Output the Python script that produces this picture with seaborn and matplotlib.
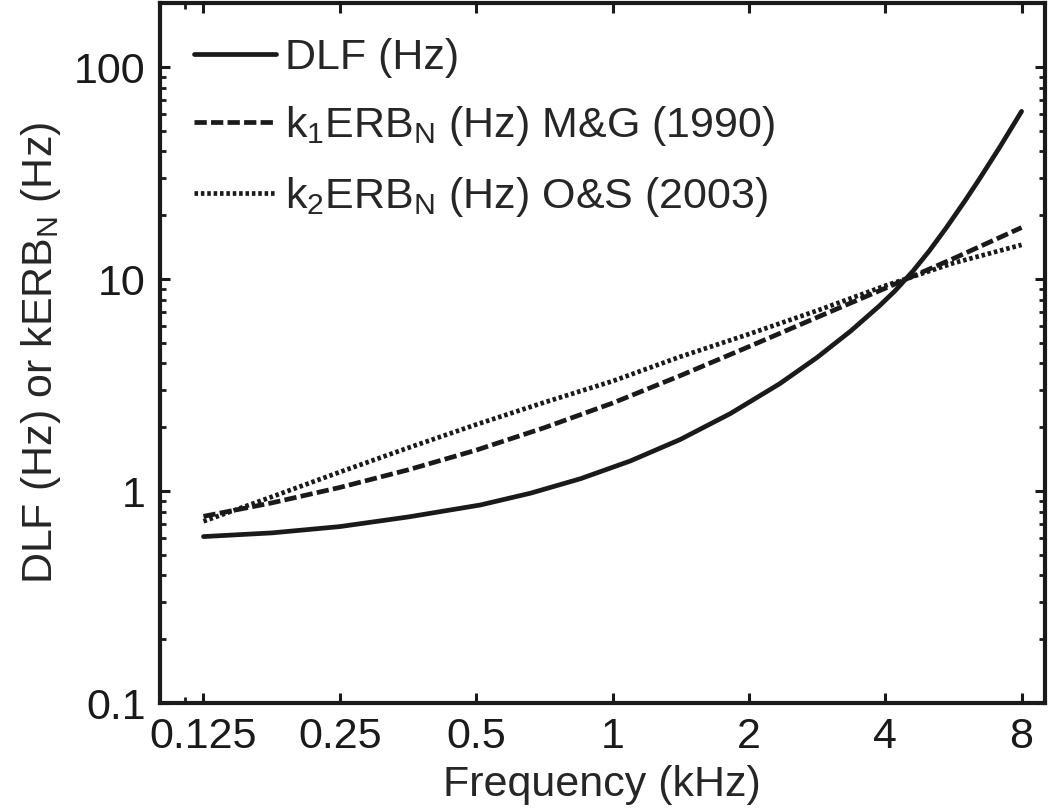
import matplotlib
matplotlib.use('Agg')
import matplotlib.pyplot as plt
import numpy as np
import pandas as pd
import seaborn as sns

# values (kHz / Hz)
freq_dlf = [0.125, 0.177, 0.25, 0.354, 0.511, 0.66, 0.85, 1.094, 1.41, 1.82, 2.34,
            2.83, 3.36, 3.89, 4.2, 4.6, 5.0, 5.45, 6.0, 6.46, 7.15, 8.0]
dlf = [0.61, 0.635, 0.68, 0.755, 0.86, 0.978, 1.144, 1.386, 1.75, 2.32, 3.21,
       4.27, 5.7, 7.5, 8.78, 10.87, 13.55, 17.4, 23.4, 29.7, 41.7, 61.8]

freq_erb = [0.125, 0.177, 0.25, 0.354, 0.5, 0.707, 1.0, 1.41, 2.0, 2.83, 4.0, 5.66, 8.0]
k1_erb = [0.76, 0.88, 1.04, 1.26, 1.56, 1.99, 2.6, 3.5, 4.8, 6.6, 9.05, 12.5, 17.5]
k2_erb = [0.72, 0.94, 1.23, 1.6, 2.06, 2.62, 3.3, 4.3, 5.5, 7.1, 9.3, 11.9, 14.5]

xticks = [0.125, 0.25, 0.5, 1, 2, 4, 8]
xticklabels = ['0.125', '0.25', '0.5', '1', '2', '4', '8']
yticks = [0.1, 1, 10, 100]
yticklabels = ['0.1', '1', '10', '100']

sns.set_theme(style='ticks')
plt.rcParams['font.family'] = ['Liberation Sans', 'DejaVu Sans']
plt.rcParams['mathtext.default'] = 'regular'
fs = 31

fig = plt.figure(figsize=(10.5, 8.1), dpi=100)
ax = fig.add_axes([0.152, 0.132, 0.843, 0.864])

lw = 3.4
sns.lineplot(x=freq_dlf, y=dlf, ax=ax, color='k', lw=lw, label='DLF (Hz)')
sns.lineplot(x=freq_erb, y=k1_erb, ax=ax, color='k', lw=lw,
             label='k$_1$ERB$_N$ (Hz) M&G (1990)')
sns.lineplot(x=freq_erb, y=k2_erb, ax=ax, color='k', lw=lw,
             label='k$_2$ERB$_N$ (Hz) O&S (2003)')
lines = ax.get_lines()
lines[1].set_dashes((2.6, 0.9))
lines[2].set_dashes((0.75, 0.6))

ax.set_xscale('log')
ax.set_yscale('log')
ax.set_xlim(0.1, 9.0)
ax.set_ylim(0.1, 200)
ax.set_xticks(xticks)
ax.set_xticklabels(xticklabels)
ax.set_xticks([0.1136], minor=True)
ax.set_yticks(yticks)
ax.set_yticklabels(yticklabels)
ax.set_yticks([m * 10.0 ** e for e in range(-1, 2) for m in range(2, 10)] + [200], minor=True)
ax.yaxis.set_minor_formatter(matplotlib.ticker.NullFormatter())
ax.xaxis.set_minor_formatter(matplotlib.ticker.NullFormatter())

ax.tick_params(which='major', direction='in', length=7, width=2.2, labelsize=fs,
               top=True, right=True, pad=10, colors='k')
ax.tick_params(which='minor', direction='in', length=4, width=2.0,
               top=True, right=True, colors='k')
for s in ax.spines.values():
    s.set_visible(True)
    s.set_linewidth(3.0)
    s.set_color('k')

ax.set_xlabel('Frequency (kHz)', fontsize=fs, labelpad=6)
ax.set_ylabel('DLF (Hz) or kERB$_N$ (Hz)', fontsize=fs, labelpad=8)

leg = ax.legend(loc='upper left', frameon=False, fontsize=fs, handlelength=1.9,
                handletextpad=0.22, labelspacing=0.62, borderaxespad=0.5,
                borderpad=0.3)

plt.savefig('out.png', dpi=100)
